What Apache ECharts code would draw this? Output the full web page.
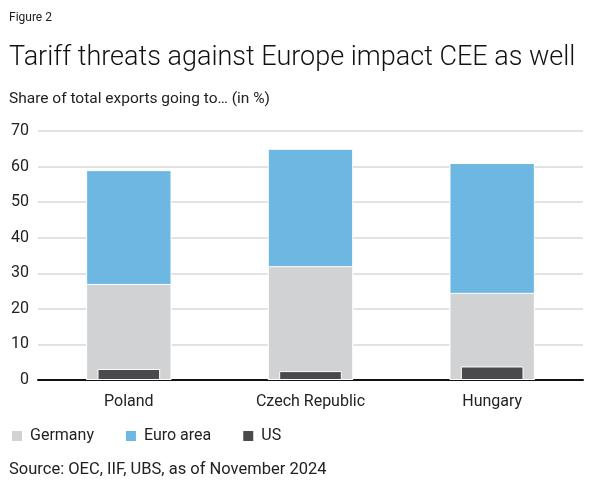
<!DOCTYPE html>
<html><head><meta charset="utf-8">
<script src="https://cdn.jsdelivr.net/npm/echarts@6/dist/echarts.min.js"></script>
<style>html,body{margin:0;padding:0;background:#fff}#c{width:613px;height:488px}</style>
</head><body><div id="c"></div>
<script>
const categories = ['Poland', 'Czech Republic', 'Hungary'];
const euroArea = [59, 65, 61];
const germany = [27, 32, 24.5];
const us = [3.1, 2.5, 3.8];
const yTicks = [0, 10, 20, 30, 40, 50, 60, 70];

const FONT = 'Roboto';
const chart = echarts.init(document.getElementById('c'), null, {renderer: 'canvas'});
chart.setOption({
  animation: false,
  textStyle: {fontFamily: FONT},
  title: [
    {text: 'Figure 2', left: 9, top: 12, padding: 0, textStyle: {fontFamily: FONT, fontSize: 12, fontWeight: 'normal', color: '#222'}},
    {text: 'Tariff threats against Europe impact CEE as well', left: 9, top: 45, padding: 0, textStyle: {fontFamily: FONT, fontSize: 27, fontWeight: 300, color: '#111'}},
    {text: 'Share of total exports going to\u2026 (in %)', left: 9, top: 91, padding: 0, textStyle: {fontFamily: FONT, fontSize: 15.5, fontWeight: 'normal', color: '#222'}},
    {text: 'Source: OEC, IIF, UBS, as of November 2024', left: 9, top: 461, padding: 0, textStyle: {fontFamily: FONT, fontSize: 16.5, fontWeight: 'normal', color: '#222'}}
  ],
  legend: {
    left: 10, top: 428, padding: 0, itemWidth: 12, itemHeight: 12, itemGap: 30, icon: 'rect',
    textStyle: {fontFamily: FONT, fontSize: 16, color: '#222', padding: [0, 0, 0, 2]},
    data: ['Germany', 'Euro area', 'US']
  },
  grid: {left: 38, right: 30, top: 131, bottom: 108, containLabel: false},
  xAxis: [
    {type: 'category', data: categories, axisTick: {show: false},
     axisLine: {lineStyle: {color: '#111', width: 2}},
     axisLabel: {fontFamily: FONT, fontSize: 16, color: '#222', margin: 14}},
    {type: 'category', data: categories, show: false}
  ],
  yAxis: {type: 'value', min: 0, max: 70, interval: 10,
    axisLabel: {fontFamily: FONT, fontSize: 16, color: '#222', margin: 9,
      formatter: v => yTicks.includes(v) ? String(v) : ''},
    splitLine: {lineStyle: {color: '#e2e2e2', width: 2}},
    axisLine: {show: false}, axisTick: {show: false}},
  series: [
    {name: 'Euro area', type: 'bar', xAxisIndex: 0, data: euroArea, barWidth: '47%', barGap: '-100%',
     itemStyle: {color: '#6db8e2', borderColor: '#fff', borderWidth: 1}},
    {name: 'Germany', type: 'bar', xAxisIndex: 0, data: germany, barWidth: '47%', barGap: '-100%',
     itemStyle: {color: '#d1d2d4', borderColor: '#fff', borderWidth: 1}},
    {name: 'US', type: 'bar', xAxisIndex: 1, data: us, barWidth: '34.5%',
     itemStyle: {color: '#4a4a4d', borderColor: '#fff', borderWidth: 1}, z: 3}
  ]
});
</script></body></html>
